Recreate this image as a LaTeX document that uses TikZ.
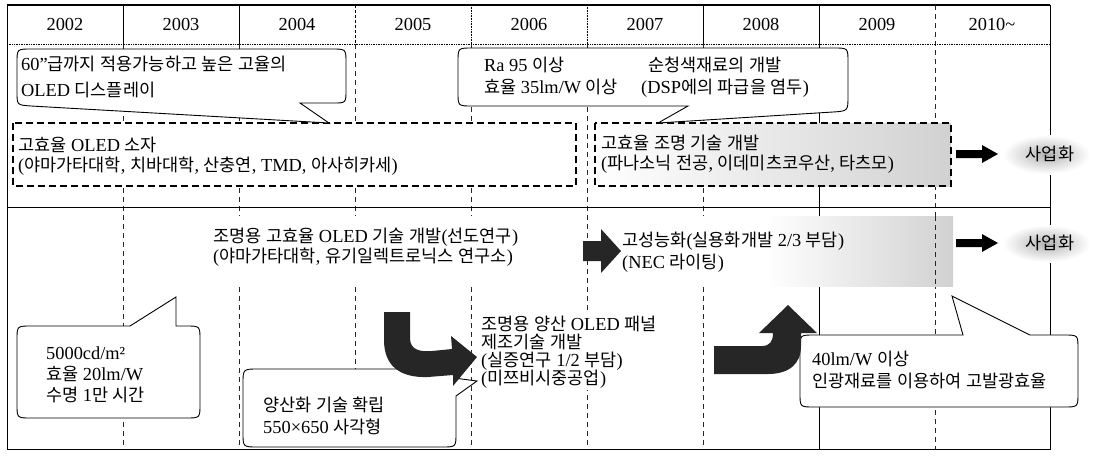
\documentclass[tikz,border=0pt]{standalone}
\usepackage{fontspec}
\setmainfont{Liberation Serif}[Scale=1.05]
\newfontfamily\krfont{Noto Sans CJK KR}
\XeTeXinterchartokenstate=1
\chardef\hangulclass=77
\count255="AC00
\loop\ifnum\count255<"D7A4
\XeTeXcharclass\count255=\hangulclass
\advance\count255 by 1
\repeat
\XeTeXinterchartoks 0 \hangulclass = {\krfont}
\XeTeXinterchartoks 4095 \hangulclass = {\krfont}
\XeTeXinterchartoks \hangulclass 0 = {\rmfamily}
\XeTeXinterchartoks \hangulclass 4095 = {\rmfamily}
\begin{document}
\begin{tikzpicture}[x=1pt,y=-1pt,
  fs/.style={font=\fontsize{17.5}{21}\selectfont},
  lbl/.style={fs, anchor=base west, inner sep=0pt},
  yr/.style={fs, anchor=base, inner sep=0pt},
  gridline/.style={line width=0.8pt, dash pattern=on 5pt off 4pt, black!85},
  framel/.style={line width=1pt},
  callout/.style={draw=black, fill=white, line width=0.9pt},
  dbox/.style={draw=black, line width=1.1pt, dash pattern=on 7pt off 4pt},
  bigarrow/.style={fill=black!85},
  blkarrow/.style={fill=black},
  stipple/.style={left color=white, right color=black!18},
  bizbox/.style={inner color=black!30, outer color=white}]
\useasboundingbox (0,0) rectangle (1096,459);

% ---------- grid ----------
\foreach \x in {123,239,355,471,587,703} \draw[gridline] (\x,44) -- (\x,449);
\draw[gridline] (935,5) -- (935,449);
\draw[line width=1pt] (819,5) -- (819,449);
\draw[line width=0.6pt] (123,5) -- (123,44);
\draw[line width=0.6pt] (239,5) -- (239,44);
\draw[line width=0.6pt, densely dashed] (355,5) -- (355,44);
\draw[line width=0.6pt, densely dotted] (471,5) -- (471,44);
\draw[line width=0.6pt, densely dotted] (587,5) -- (587,44);
\draw[line width=0.6pt] (703,5) -- (703,44);
\draw[line width=0.7pt, densely dotted] (7,44) -- (1050,44);
\draw[framel] (7,5) rectangle (1050,449);
\draw[line width=1.2pt] (7,5) -- (1050,5);
\draw[framel] (7,207) -- (1050,207);

% ---------- header ----------
\node[yr] (y02) at (65,30) {2002};
\node[yr] (y03) at (181,30) {2003};
\node[yr] (y04) at (297,30) {2004};
\node[yr] (y05) at (413,30) {2005};
\node[yr] (y06) at (529,30) {2006};
\node[yr] (y07) at (645,30) {2007};
\node[yr] (y08) at (761,30) {2008};
\node[yr] (y09) at (877,30) {2009};
\node[yr] (y10) at (992,30) {2010\textasciitilde};

% ---------- backgrounds ----------
\fill[white] (205,216) rectangle (545,286);
\fill[white] (610,216) rectangle (765,286);
\shade[stipple] (765,216) rectangle (953,286);
\draw[gridline] (935,216) -- (935,286);
\fill[white] (478,314) rectangle (672,390);
\shade[bizbox] (1003,135) rectangle (1090,174);
\shade[bizbox] (1003,225) rectangle (1090,262);

% ---------- dashed boxes ----------
\draw[dbox, fill=white] (13,123) rectangle (576,186);
\shade[stipple] (595,123) rectangle (951,186);
\draw[dbox] (595,123) rectangle (951,186);

% ---------- callouts ----------
\draw[callout] (17,63) .. controls (17,49) .. (31,49) -- (332,49)
  .. controls (346,49) .. (346,63) -- (346,90) .. controls (346,103) .. (333,103)
  -- (300,103) -- (329,123) -- (31,106) .. controls (17,105) .. (17,92) -- cycle;
\draw[callout] (458,62) .. controls (458,48) .. (472,48) -- (834,48)
  .. controls (848,48) .. (848,62) -- (848,96) .. controls (848,111) .. (833,112)
  -- (658,123) -- (688,106) -- (472,106) .. controls (458,106) .. (458,92) -- cycle;
\draw[callout] (17,340) .. controls (17,326) .. (31,326) -- (130,326) -- (176,297)
  -- (176,326) -- (186,326) .. controls (200,326) .. (200,340) -- (200,404)
  .. controls (200,418) .. (186,418) -- (31,418) .. controls (17,418) .. (17,404) -- cycle;
\draw[callout] (243,384) .. controls (243,369) .. (258,369) -- (440,369)
  .. controls (452,369) .. (454,378) -- (477,381) -- (456,396) -- (456,433)
  .. controls (456,447) .. (442,447) -- (258,447) .. controls (243,447) .. (243,433) -- cycle;
\draw[callout] (800,349) .. controls (800,335) .. (814,335) -- (963,335) -- (952,296)
  -- (1030,335) -- (1064,335) .. controls (1078,335) .. (1078,349) -- (1078,393)
  .. controls (1078,407) .. (1064,407) -- (814,407) .. controls (800,407) .. (800,393) -- cycle;

% ---------- arrows ----------
\fill[bigarrow] (384,312) -- (410,312) -- (410,338) .. controls (410,350) and (420,352) .. (432,351)
  -- (452,349) -- (451,336) -- (477,357) -- (453,386) -- (453,375) -- (428,377)
  .. controls (400,378) and (384,366) .. (384,340) -- cycle;
\fill[bigarrow] (714,346) -- (762,346) .. controls (770,346) and (773,341) .. (773,333)
  -- (759,333) -- (788,305) -- (817,333) -- (801,333) -- (801,346)
  .. controls (801,364) and (789,374) .. (768,374) -- (714,374) -- cycle;
\fill[bigarrow] (583,241) -- (601,241) -- (601,229) -- (621,251) -- (601,273) -- (601,261) -- (583,261) -- cycle;
\fill[blkarrow] (956,150) -- (982,150) -- (982,145) -- (998,154) -- (982,163) -- (982,158) -- (956,158) -- cycle;
\fill[blkarrow] (956,239) -- (982,239) -- (982,234) -- (998,243) -- (982,252) -- (982,247) -- (956,247) -- cycle;

% ---------- texts ----------
\node[lbl] (a1) at (21,70) {60”급까지 적용가능하고 높은 고율의};
\node[lbl] (a2) at (21,96) {OLED 디스플레이};
\node[lbl] (b1) at (484,71) {Ra 95 이상};
\node[lbl] (b2) at (648,71) {순청색재료의 개발};
\node[lbl] (b3) at (484,93) {효율 35lm/W 이상};
\node[lbl] (b4) at (641,93) {(DSP에의 파급을 염두)};
\node[lbl] (c1) at (18,151) {고효율 OLED 소자};
\node[lbl] (c2) at (18,171) {(야마가타대학, 치바대학, 산충연, TMD, 아사히카세)};
\node[lbl] (d1) at (601,149) {고효율 조명 기술 개발};
\node[lbl] (d2) at (601,169) {(파나소닉 전공, 이데미츠코우산, 타츠모)};
\node[yr] (s1) at (1050,160) {사업화};
\node[yr] (s2) at (1050,249) {사업화};
\node[lbl] (e1) at (213,242) {조명용 고효율 OLED 기술 개발(선도연구)};
\node[lbl] (e2) at (213,262) {(야마가타대학, 유기일렉트로닉스 연구소)};
\node[lbl] (f1) at (622,246) {고성능화(실용화개발 2/3 부담)};
\node[lbl] (f2) at (622,268) {(NEC 라이팅)};
\node[lbl] (g1) at (481,330) {조명용 양산 OLED 패널};
\node[lbl] (g2) at (481,348) {제조기술 개발};
\node[lbl] (g3) at (481,366) {(실증연구 1/2 부담)};
\node[lbl] (g4) at (481,384) {(미쯔비시중공업)};
\node[lbl] (h1) at (46,359) {5000cd/m²};
\node[lbl] (h2) at (46,380) {효율 20lm/W};
\node[lbl] (h3) at (46,401) {수명 1만 시간};
\node[lbl] (i1) at (263,411) {양산화 기술 확립};
\node[lbl] (i2) at (263,433) {550×650 사각형};
\node[lbl] (j1) at (812,365) {40lm/W 이상};
\node[lbl] (j2) at (812,387) {인광재료를 이용하여 고발광효율};
\end{tikzpicture}
\end{document}
